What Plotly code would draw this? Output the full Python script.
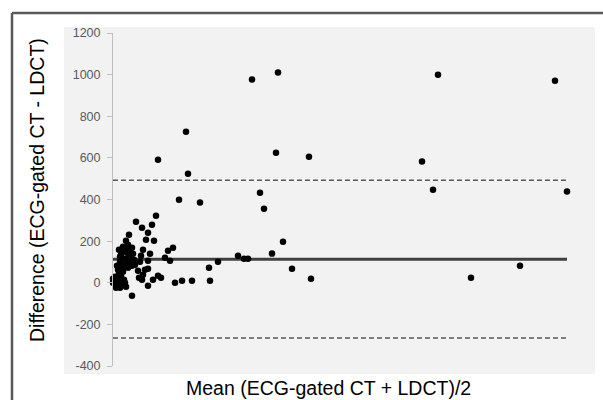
import plotly.graph_objects as go

# Bland-Altman data: mean of the two measurements (x) and their difference (y)
mean_x = [695, 825, 1625, 2210, 815, 980, 1545, 735, 1600, 2270, 755, 850, 795, 895, 990, 1790, 2035,
          365, 225, 375, 330, 435, 215, 195, 205, 300, 275, 260, 285, 625, 655, 675, 525, 480, 225, 240, 200, 310, 345, 395, 485,
          115, 145, 175, 80, 165, 65, 50, 75, 95, 150, 185, 140, 100, 70, 35, 175, 95, 125, 175, 130, 145, 175, 95,
          5, 15, 25, 10, 35, 45, 20, 30, 40, 55, 0, 15, 50, 25, 60, 0, 35, 65,
          35, 45, 60, 55, 70, 80, 90, 65, 40, 30, 75, 105, 85, 45, 20, 110, 135, 160, 150]
diff_y = [976, 1010, 1000, 971, 625, 606, 582, 433, 447, 438, 356, 197, 140, 67, 19, 24, 82,
          726, 591, 524, 399, 385, 322, 279, 202, 168, 154, 120, 106, 130, 115, 115, 101, 72, 34, 24, 14, 0, 10, 10, 10,
          293, 264, 240, 231, 207, 202, 173, 183, 168, 159, 139, 130, 139, 144, 125, 106, 82, 58, 67, 24, 14, -14, -62,
          10, -5, 19, 29, 5, -10, -14, 43, 34, 14, 0, -24, 53, 62, 0, 19, -24, -19,
          101, 82, 115, 154, 168, 120, 101, 91, 135, 159, 72, 111, 149, 62, 82, 87, 101, 62, 38]

mean_diff = 113
upper_loa = 492
lower_loa = -266

y_ticks = [-400, -200, 0, 200, 400, 600, 800, 1000, 1200]
y_tick_labels = ["-400", "-200", "0", "200", "400", "600", "800", "1000", "1200"]

x_span = [0, max(mean_x)]

fig = go.Figure()

fig.add_trace(go.Scatter(x=x_span, y=[upper_loa, upper_loa], mode="lines",
                         line=dict(color="#595959", width=1.5, dash="5px,3px"),
                         hoverinfo="skip", showlegend=False))
fig.add_trace(go.Scatter(x=x_span, y=[lower_loa, lower_loa], mode="lines",
                         line=dict(color="#595959", width=1.5, dash="5px,3px"),
                         hoverinfo="skip", showlegend=False))
fig.add_trace(go.Scatter(x=x_span, y=[mean_diff, mean_diff], mode="lines",
                         line=dict(color="#404040", width=3),
                         hoverinfo="skip", showlegend=False))
fig.add_trace(go.Scatter(x=mean_x, y=diff_y, mode="markers",
                         marker=dict(color="black", size=6.5),
                         cliponaxis=False, showlegend=False))

# pixel helpers for the layout (plot area 113..573 x 33..366)
L, R, T, B = 113, 573, 33, 366
def px(xp):
    return (xp - L) / (R - L)
def py(yp):
    return (B - yp) / (B - T)

fig.update_layout(
    width=603, height=400,
    margin=dict(l=L, r=603 - R, t=T, b=400 - B),
    paper_bgcolor="white",
    plot_bgcolor="rgba(0,0,0,0)",
    showlegend=False,
    xaxis=dict(range=[0, 2300], visible=False, showgrid=False, zeroline=False),
    yaxis=dict(range=[-400, 1200], tickvals=y_ticks, ticktext=y_tick_labels,
               showgrid=False, zeroline=False,
               showline=True, linecolor="#bfbfbf", linewidth=1,
               ticks="outside", ticklen=5, tickcolor="#bfbfbf", ticklabelstandoff=4,
               tickfont=dict(family="Liberation Sans", size=12.5, color="#595959")),
    shapes=[
        dict(type="rect", xref="paper", yref="paper", layer="below",
             x0=px(64), x1=px(595), y0=py(374), y1=py(27),
             fillcolor="#f2f2f2", line=dict(width=0)),
        dict(type="line", xref="paper", yref="paper",
             x0=px(12), x1=px(610), y0=py(13), y1=py(13),
             line=dict(color="#595959", width=2.5)),
        dict(type="line", xref="paper", yref="paper",
             x0=px(12), x1=px(12), y0=py(13), y1=py(410),
             line=dict(color="#595959", width=2.5)),
    ],
    annotations=[
        dict(text="ECG-Gated CT and LDCT Calcium Score", xref="paper", yref="paper",
             x=px(37), y=py(6.5), xanchor="left", yanchor="bottom", showarrow=False,
             font=dict(family="Liberation Sans", size=22, color="#595959")),
        dict(text="Difference (ECG-gated CT - LDCT)", xref="paper", yref="paper",
             x=px(37), y=py(190), xanchor="center", yanchor="middle", textangle=-90,
             showarrow=False, font=dict(family="Liberation Sans", size=19.5, color="black")),
        dict(text="Mean (ECG-gated CT + LDCT)/2", xref="paper", yref="paper",
             x=px(328), y=py(388), xanchor="center", yanchor="middle",
             showarrow=False, font=dict(family="Liberation Sans", size=19.5, color="black")),
    ],
)

fig.write_html("out.html", config={"displayModeBar": False},
               post_script="document.body.style.margin='0';document.body.style.overflow='hidden';")
